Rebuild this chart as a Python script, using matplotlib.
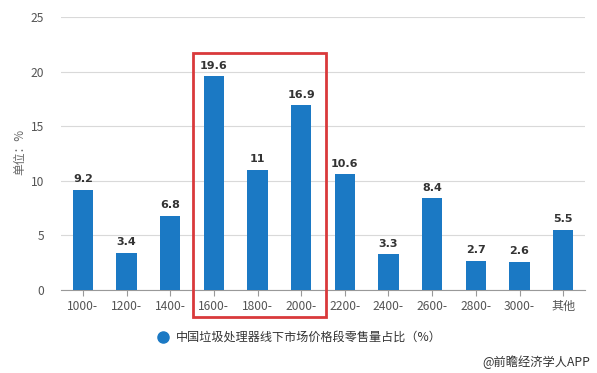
import matplotlib.pyplot as plt
from matplotlib.patches import Rectangle
from matplotlib.lines import Line2D

plt.rcParams["font.family"] = ["Noto Sans CJK SC", "DejaVu Sans"]

categories = ["1000-", "1200-", "1400-", "1600-", "1800-", "2000-",
              "2200-", "2400-", "2600-", "2800-", "3000-", "其他"]
values = [9.2, 3.4, 6.8, 19.6, 11, 16.9, 10.6, 3.3, 8.4, 2.7, 2.6, 5.5]
value_labels = ["9.2", "3.4", "6.8", "19.6", "11", "16.9",
                "10.6", "3.3", "8.4", "2.7", "2.6", "5.5"]
yticks = [0, 5, 10, 15, 20, 25]
series_name = "中国垃圾处理器线下市场价格段零售量占比（%）"

bar_color = "#1b79c4"
W, H = 597, 373

fig = plt.figure(figsize=(W / 100, H / 100), dpi=100)
ax = fig.add_axes([61 / W, 1 - 290 / H, (585 - 61) / W, (290 - 17) / H])

x = range(len(categories))
ax.bar(x, values, width=0.46, color=bar_color, zorder=3)
for i, (v, lab) in enumerate(zip(values, value_labels)):
    ax.text(i, v + 0.5, lab, ha="center", va="bottom", fontsize=8,
            fontweight="bold", color="#333333", family="DejaVu Sans", zorder=4)

ax.set_xlim(-0.5, len(categories) - 0.5)
ax.set_ylim(0, 25)
ax.set_yticks(yticks)
ax.set_xticks(list(x))
ax.set_xticklabels(categories)
ax.yaxis.grid(True, color="#d9d9d9", linewidth=0.8, zorder=0)
for s in ["top", "right", "left"]:
    ax.spines[s].set_visible(False)
ax.spines["bottom"].set_color("#999999")
ax.tick_params(axis="x", length=4, color="#999999", labelsize=8.7,
               labelcolor="#555555", pad=3)
ax.tick_params(axis="y", length=0, labelsize=8.7, labelcolor="#555555", pad=12)

fig.text(20 / W, 1 - 152 / H, "单位：%", rotation=90, ha="center",
         va="center", fontsize=8.5, color="#666666")

# highlight box around 1600-2000
rect = Rectangle((193 / W, 1 - 317 / H), (326 - 193) / W, (317 - 53) / H,
                 transform=fig.transFigure, fill=False, edgecolor="#d9393b",
                 linewidth=2, zorder=5)
fig.patches.append(rect)

# legend
fig.add_artist(Line2D([163 / W], [1 - 337 / H], marker="o", markersize=8,
                      color=bar_color, linestyle="none",
                      transform=fig.transFigure))
fig.text(176 / W, 1 - 337 / H, series_name, ha="left", va="center",
         fontsize=8.7, color="#333333")

fig.text(590 / W, 1 - 362 / H, "@前瞻经济学人APP", ha="right", va="center",
         fontsize=8.8, color="#333333")

fig.savefig("out.png", dpi=100)
